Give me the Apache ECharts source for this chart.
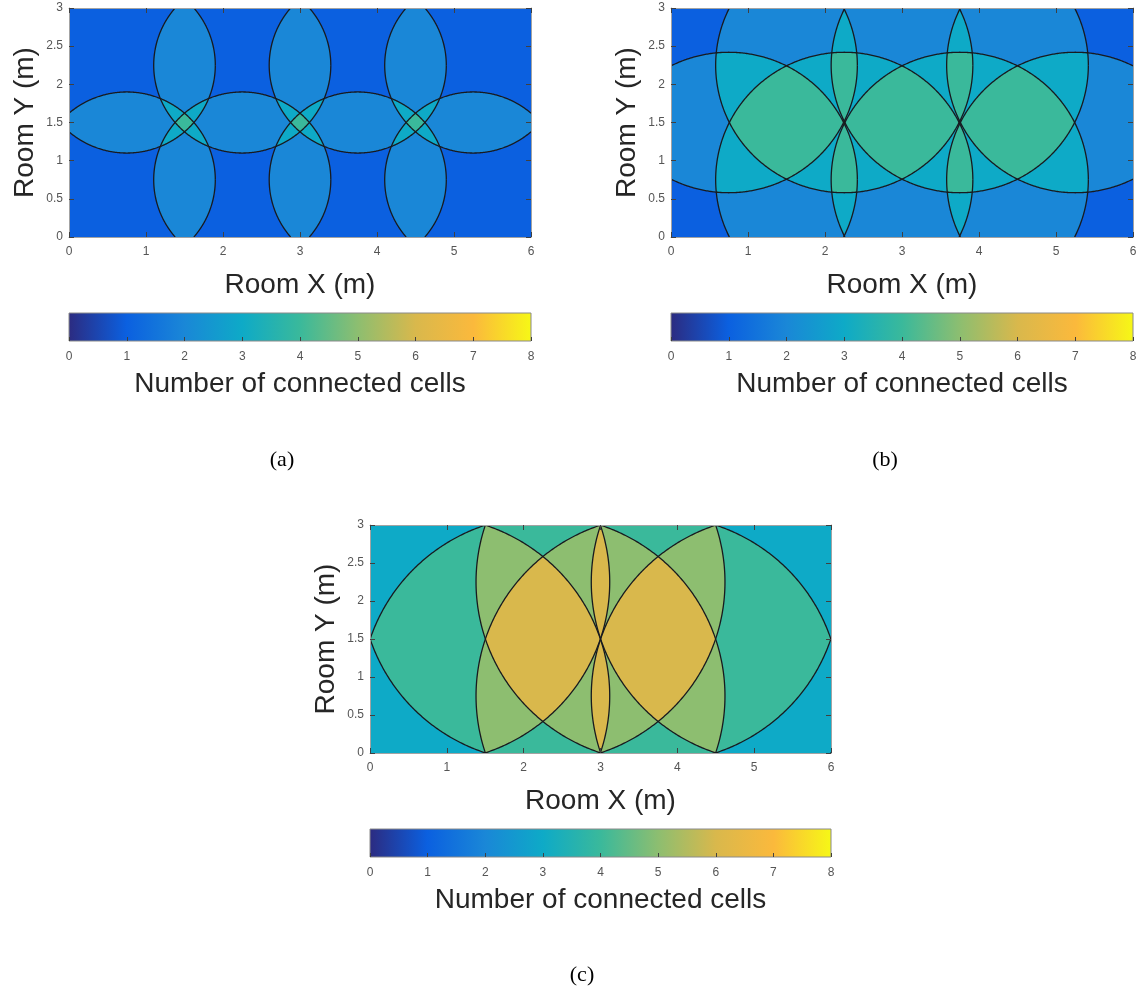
<!DOCTYPE html>
<html>
<head>
<meta charset="utf-8">
<script src="https://cdn.jsdelivr.net/npm/echarts@6/dist/echarts.min.js"></script>
<style>
html,body{margin:0;padding:0;background:#fff;}
#chart{width:1146px;height:993px;}
</style>
</head>
<body>
<div id="chart"></div>
<script>
// ---------------- data ----------------
// cell (access point) centre positions in the room, metres
const cellX = [0.75, 2.25, 3.75, 5.25];
const cellY = [0.75, 2.25];
// coverage radius of every cell for panels (a), (b), (c), metres
const coverageRadius = [1.15, 1.67, 2.37];
const panelLabels = ['(a)', '(b)', '(c)'];
const roomX = [0, 6];
const roomY = [0, 3];
const xTickStep = 1;
const yTickStep = 0.5;
const countRange = [0, 8];
// colour of each "number of connected cells" value 0..8
const countColors = ['#2c2b80', '#0b60e0', '#1a87d7', '#0eaac7', '#3ab99b', '#8dbe70', '#d9b84c', '#fbb93c', '#f6f816'];
const xName = 'Room X (m)';
const yName = 'Room Y (m)';
const cbName = 'Number of connected cells';

// ---------------- helpers ----------------
const cells = [];
cellY.forEach(cy => cellX.forEach(cx => cells.push([cx, cy])));

const SANS = "'Liberation Sans', Arial, Helvetica, sans-serif";
const SERIF = "'Liberation Serif', 'DejaVu Serif', serif";

function countAt(x, y, R) {
  let n = 0;
  for (const c of cells) {
    const dx = x - c[0], dy = y - c[1];
    if (dx * dx + dy * dy < R * R) n++;
  }
  return n;
}

function coverageRender(params, api) {
  const R = api.value(0);
  const pBL = api.coord([roomX[0], roomY[0]]);
  const pTR = api.coord([roomX[1], roomY[1]]);
  const yTop = pTR[1], yBot = pBL[1];
  const children = [];
  for (let py = Math.floor(yTop); py < yBot; py++) {
    const r0 = Math.max(py, yTop), r1 = Math.min(py + 1, yBot);
    if (r1 <= r0) continue;
    const yMid = roomY[0] + (yBot - (r0 + r1) / 2) / (yBot - yTop) * (roomY[1] - roomY[0]);
    const bps = [roomX[0], roomX[1]];
    for (const c of cells) {
      const d = R * R - (yMid - c[1]) * (yMid - c[1]);
      if (d > 0) {
        const h = Math.sqrt(d);
        [c[0] - h, c[0] + h].forEach(v => { if (v > roomX[0] && v < roomX[1]) bps.push(v); });
      }
    }
    bps.sort((a, b) => a - b);
    const spans = [];
    for (let i = 0; i < bps.length - 1; i++) {
      if (bps[i + 1] - bps[i] < 1e-9) continue;
      const n = countAt((bps[i] + bps[i + 1]) / 2, yMid, R);
      if (spans.length && spans[spans.length - 1].n === n) spans[spans.length - 1].b = bps[i + 1];
      else spans.push({a: bps[i], b: bps[i + 1], n: n});
    }
    spans.forEach((s, k) => {
      const xa = api.coord([s.a, yMid])[0];
      const xb = api.coord([s.b, yMid])[0];
      const extra = k < spans.length - 1 ? 0.7 : 0;
      children.push({
        type: 'rect',
        shape: {x: xa, y: r0, width: xb - xa + extra, height: r1 - r0 + (r1 < yBot ? 0.3 : 0)},
        style: {fill: countColors[s.n]}
      });
    });
  }
  return {type: 'group', children: children};
}

function clipSeg(p, q) {
  let t0 = 0, t1 = 1;
  const dx = q[0] - p[0], dy = q[1] - p[1];
  const P = [-dx, dx, -dy, dy];
  const Q = [p[0] - roomX[0], roomX[1] - p[0], p[1] - roomY[0], roomY[1] - p[1]];
  for (let i = 0; i < 4; i++) {
    if (P[i] === 0) { if (Q[i] < 0) return null; }
    else {
      const t = Q[i] / P[i];
      if (P[i] < 0) { if (t > t1) return null; if (t > t0) t0 = t; }
      else { if (t < t0) return null; if (t < t1) t1 = t; }
    }
  }
  return [[p[0] + t0 * dx, p[1] + t0 * dy], [p[0] + t1 * dx, p[1] + t1 * dy], t0 === 0];
}

function makeOutlineRender(R) {
  return function (params, api) {
    const cx = api.value(0), cy = api.value(1);
    const N = 720;
    const lines = [];
    let cur = null, prev = null;
    for (let k = 0; k <= N; k++) {
      const a = 2 * Math.PI * k / N;
      const p = [cx + R * Math.cos(a), cy + R * Math.sin(a)];
      if (prev) {
        const s = clipSeg(prev, p);
        if (s) {
          if (cur && s[2]) cur.push(s[1]);
          else { cur = [s[0], s[1]]; lines.push(cur); }
        } else cur = null;
      }
      prev = p;
    }
    return {
      type: 'group',
      children: lines.map(l => ({
        type: 'polyline',
        shape: {points: l.map(pt => api.coord(pt))},
        style: {stroke: '#181a1f', lineWidth: 1.3, fill: null}
      }))
    };
  };
}

function colorbarRender(params, api) {
  const p0 = api.coord([countRange[0], 0]);
  const p1 = api.coord([countRange[1], 1]);
  const stops = countColors.map((c, i) => ({offset: i / (countColors.length - 1), color: c}));
  return {
    type: 'rect',
    shape: {x: p0[0], y: p1[1], width: p1[0] - p0[0], height: p0[1] - p1[1]},
    style: {
      fill: {type: 'linear', x: 0, y: 0, x2: 1, y2: 0, colorStops: stops},
      stroke: '#8a8a8a', lineWidth: 1
    }
  };
}

// ---------------- layout ----------------
const plotGrids = [
  {left: 69, top: 8, width: 462, height: 229},
  {left: 671, top: 8, width: 462, height: 229},
  {left: 370, top: 525, width: 461, height: 228}
];
const cbGrids = [
  {left: 69, top: 313, width: 462, height: 28},
  {left: 671, top: 313, width: 462, height: 28},
  {left: 370, top: 829, width: 461, height: 28}
];
const captionPos = [[282, 460], [885, 460], [582, 975]];

const grid = [], xAxis = [], yAxis = [], series = [];
const boxLine = {show: true, onZero: false, lineStyle: {color: '#a3a3a3', width: 1}};
const lblStyle = {color: '#555555', fontSize: 12, fontFamily: SANS};
function tk(len) { return {show: true, inside: true, length: len, lineStyle: {color: '#404040', width: 1}}; }

plotGrids.forEach((g, i) => {
  grid.push(Object.assign({containLabel: false}, g));
  xAxis.push({
    gridIndex: i, type: 'value', min: roomX[0], max: roomX[1], interval: xTickStep, position: 'bottom',
    name: xName, nameLocation: 'middle', nameGap: 34,
    nameTextStyle: {fontSize: 28, color: '#262626', fontFamily: SANS},
    axisLine: boxLine, axisTick: tk(5), splitLine: {show: false},
    axisLabel: Object.assign({margin: 9}, lblStyle), z: 5
  });
  xAxis.push({
    gridIndex: i, type: 'value', min: roomX[0], max: roomX[1], interval: xTickStep, position: 'top',
    axisLine: boxLine, axisTick: tk(5), splitLine: {show: false}, axisLabel: {show: false}, z: 5
  });
  yAxis.push({
    gridIndex: i, type: 'value', min: roomY[0], max: roomY[1], interval: yTickStep, position: 'left',
    name: yName, nameLocation: 'middle', nameGap: 30,
    nameTextStyle: {fontSize: 28, color: '#262626', fontFamily: SANS},
    axisLine: boxLine, axisTick: tk(5), splitLine: {show: false},
    axisLabel: Object.assign({margin: 6}, lblStyle), z: 5
  });
  yAxis.push({
    gridIndex: i, type: 'value', min: roomY[0], max: roomY[1], interval: yTickStep, position: 'right',
    axisLine: boxLine, axisTick: tk(5), splitLine: {show: false}, axisLabel: {show: false}, z: 5
  });
  series.push({
    type: 'custom', name: 'coverage ' + panelLabels[i], xAxisIndex: 2 * i, yAxisIndex: 2 * i,
    data: [[coverageRadius[i]]], renderItem: coverageRender, silent: true, z: 1, clip: true
  });
  series.push({
    type: 'custom', name: 'cells ' + panelLabels[i], xAxisIndex: 2 * i, yAxisIndex: 2 * i,
    data: cells, renderItem: makeOutlineRender(coverageRadius[i]), silent: true, z: 3, clip: true
  });
});

cbGrids.forEach((g, j) => {
  const gi = plotGrids.length + j;
  grid.push(Object.assign({containLabel: false}, g));
  xAxis.push({
    gridIndex: gi, type: 'value', min: countRange[0], max: countRange[1], interval: 1, position: 'bottom',
    name: cbName, nameLocation: 'middle', nameGap: 29,
    nameTextStyle: {fontSize: 28, color: '#262626', fontFamily: SANS},
    axisLine: {show: false, onZero: false}, axisTick: tk(4),
    splitLine: {show: false}, axisLabel: Object.assign({margin: 10}, lblStyle), z: 5
  });
  yAxis.push({
    gridIndex: gi, type: 'value', min: 0, max: 1, show: false
  });
  series.push({
    type: 'custom', name: 'colorbar ' + panelLabels[j], xAxisIndex: 6 + j, yAxisIndex: 6 + j,
    data: [[countRange[0], countRange[1]]], renderItem: colorbarRender, silent: true, z: 1
  });
});

const chart = echarts.init(document.getElementById('chart'), null, {renderer: 'canvas'});
chart.setOption({
  backgroundColor: '#ffffff',
  animation: false,
  grid: grid, xAxis: xAxis, yAxis: yAxis, series: series,
  graphic: panelLabels.map((t, i) => ({
    type: 'text', x: captionPos[i][0], y: captionPos[i][1],
    style: {text: t, fontSize: 22, fontFamily: SERIF, fill: '#000', align: 'center', verticalAlign: 'middle'}
  }))
});
</script>
</body>
</html>
